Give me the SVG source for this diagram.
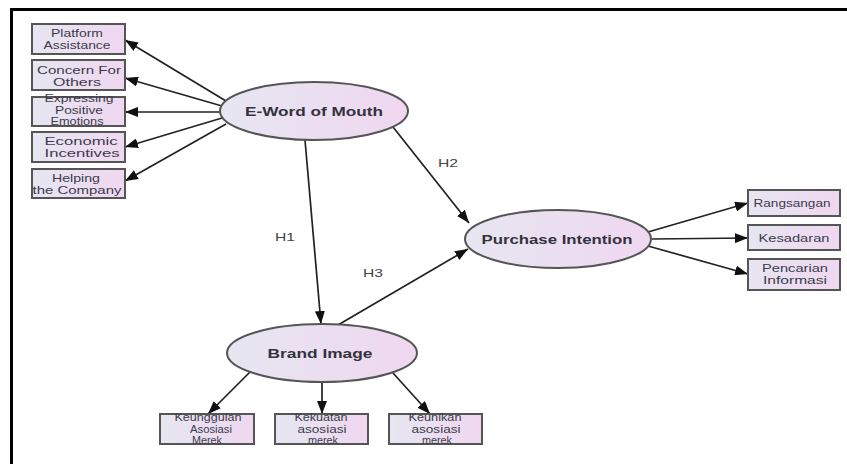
<svg xmlns="http://www.w3.org/2000/svg" width="847" height="464" viewBox="0 0 847 464">
<defs>
<linearGradient id="g" x1="0" y1="0" x2="1" y2="0">
<stop offset="0" stop-color="#e6e6f1"/>
<stop offset="1" stop-color="#f0d7f0"/>
</linearGradient>
<marker id="ah" markerWidth="14" markerHeight="10" refX="13" refY="5" orient="auto" markerUnits="userSpaceOnUse">
<path d="M0,0 L13,5 L0,10 z" fill="#111"/>
</marker>
<style>
.box{fill:url(#g);stroke:#555;stroke-width:2}
.ell{fill:url(#g);stroke:#555;stroke-width:2}
.bt{font-family:"Liberation Sans",Arial,sans-serif;font-size:11px;fill:#3c3c4c;text-anchor:middle}
.st{font-family:"Liberation Sans",Arial,sans-serif;font-size:10px;fill:#3c3c4c;text-anchor:middle}
.et{font-family:"Liberation Sans",Arial,sans-serif;font-size:13px;font-weight:bold;fill:#33333d;text-anchor:middle}
.ht{font-family:"Liberation Sans",Arial,sans-serif;font-size:11px;fill:#444;text-anchor:middle}
.ln{stroke:#222;stroke-width:1.7;fill:none;marker-end:url(#ah)}
</style>
</defs>
<rect x="0" y="0" width="847" height="464" fill="#fff"/>
<rect x="10" y="8" width="837" height="3" fill="#000"/>
<rect x="10" y="8" width="3" height="456" fill="#000"/>

<g id="connectors">
<line class="ln" x1="226" y1="101" x2="125" y2="40"/>
<line class="ln" x1="222" y1="106" x2="125" y2="78"/>
<line class="ln" x1="220" y1="112" x2="125" y2="112"/>
<line class="ln" x1="222" y1="118" x2="125" y2="147"/>
<line class="ln" x1="226" y1="124" x2="125" y2="181"/>
<line class="ln" x1="305" y1="140" x2="321" y2="324"/>
<line class="ln" x1="393" y1="127" x2="469" y2="223"/>
<line class="ln" x1="338" y1="325" x2="468" y2="249"/>
<line class="ln" x1="648" y1="232" x2="748" y2="203"/>
<line class="ln" x1="652" y1="239" x2="748" y2="238"/>
<line class="ln" x1="648" y1="246" x2="748" y2="274"/>
<line class="ln" x1="250" y1="372" x2="208" y2="414"/>
<line class="ln" x1="322" y1="383" x2="322" y2="414"/>
<line class="ln" x1="393" y1="373" x2="430" y2="414"/>
<text class="ht" x="285" y="241" textLength="20" lengthAdjust="spacingAndGlyphs">H1</text>
<text class="ht" x="448" y="167" textLength="20" lengthAdjust="spacingAndGlyphs">H2</text>
<text class="ht" x="373" y="277" textLength="20" lengthAdjust="spacingAndGlyphs">H3</text>
</g>

<g id="ewom">
<ellipse class="ell" cx="314" cy="111" rx="94" ry="29"/>
<text class="et" x="314" y="116" textLength="138" lengthAdjust="spacingAndGlyphs">E-Word of Mouth</text>
</g>
<g id="purchase-intention">
<ellipse class="ell" cx="558" cy="239" rx="93" ry="29"/>
<text class="et" x="557" y="244" textLength="151" lengthAdjust="spacingAndGlyphs">Purchase Intention</text>
</g>
<g id="brand-image">
<ellipse class="ell" cx="322" cy="353" rx="95" ry="29"/>
<text class="et" x="320" y="358" textLength="105" lengthAdjust="spacingAndGlyphs">Brand Image</text>
</g>

<g id="platform-assistance">
<rect class="box" x="32" y="24" width="93" height="30"/>
<text class="bt" x="77" y="37" textLength="52" lengthAdjust="spacingAndGlyphs">Platform</text>
<text class="bt" x="77" y="49" textLength="67" lengthAdjust="spacingAndGlyphs">Assistance</text>
</g>
<g id="concern-for-others">
<rect class="box" x="32" y="60" width="93" height="30"/>
<text class="bt" x="79" y="74" textLength="84" lengthAdjust="spacingAndGlyphs">Concern For</text>
<text class="bt" x="77" y="86" textLength="48" lengthAdjust="spacingAndGlyphs">Others</text>
</g>
<g id="expressing-positive-emotions">
<rect class="box" x="32" y="97" width="93" height="29"/>
<text class="st" x="79" y="102" textLength="69" lengthAdjust="spacingAndGlyphs">Expressing</text>
<text class="st" x="79" y="114" textLength="48" lengthAdjust="spacingAndGlyphs">Positive</text>
<text class="st" x="77" y="125" textLength="53" lengthAdjust="spacingAndGlyphs">Emotions</text>
</g>
<g id="economic-incentives">
<rect class="box" x="32" y="132" width="93" height="30"/>
<text class="bt" x="81" y="145" textLength="73" lengthAdjust="spacingAndGlyphs">Economic</text>
<text class="bt" x="82" y="157" textLength="75" lengthAdjust="spacingAndGlyphs">Incentives</text>
</g>
<g id="helping-the-company">
<rect class="box" x="32" y="169" width="93" height="29"/>
<text class="bt" x="76" y="182" textLength="48" lengthAdjust="spacingAndGlyphs">Helping</text>
<text class="bt" x="77" y="194" textLength="89" lengthAdjust="spacingAndGlyphs">the Company</text>
</g>

<g id="rangsangan">
<rect class="box" x="748" y="190" width="92" height="26"/>
<text class="bt" x="792" y="207" textLength="77" lengthAdjust="spacingAndGlyphs">Rangsangan</text>
</g>
<g id="kesadaran">
<rect class="box" x="748" y="225" width="92" height="25"/>
<text class="bt" x="794" y="242" textLength="71" lengthAdjust="spacingAndGlyphs">Kesadaran</text>
</g>
<g id="pencarian-informasi">
<rect class="box" x="748" y="259" width="92" height="31"/>
<text class="bt" x="795" y="272" textLength="66" lengthAdjust="spacingAndGlyphs">Pencarian</text>
<text class="bt" x="795" y="284" textLength="64" lengthAdjust="spacingAndGlyphs">Informasi</text>
</g>

<g id="keunggulan-asosiasi-merek">
<rect class="box" x="160" y="414" width="94" height="30"/>
<text class="st" x="208" y="421" textLength="67" lengthAdjust="spacingAndGlyphs">Keunggulan</text>
<text class="st" x="211" y="433" textLength="42" lengthAdjust="spacingAndGlyphs">Asosiasi</text>
<text class="st" x="207" y="444" textLength="30" lengthAdjust="spacingAndGlyphs">Merek</text>
</g>
<g id="kekuatan-asosiasi-merek">
<rect class="box" x="275" y="414" width="93" height="30"/>
<text class="st" x="321" y="421" textLength="53" lengthAdjust="spacingAndGlyphs">Kekuatan</text>
<text class="st" x="322" y="433" textLength="49" lengthAdjust="spacingAndGlyphs">asosiasi</text>
<text class="st" x="323" y="444" textLength="30" lengthAdjust="spacingAndGlyphs">merek</text>
</g>
<g id="keunikan-asosiasi-merek">
<rect class="box" x="389" y="414" width="93" height="30"/>
<text class="st" x="435" y="421" textLength="53" lengthAdjust="spacingAndGlyphs">Keunikan</text>
<text class="st" x="436" y="433" textLength="49" lengthAdjust="spacingAndGlyphs">asosiasi</text>
<text class="st" x="437" y="444" textLength="30" lengthAdjust="spacingAndGlyphs">merek</text>
</g>
</svg>
